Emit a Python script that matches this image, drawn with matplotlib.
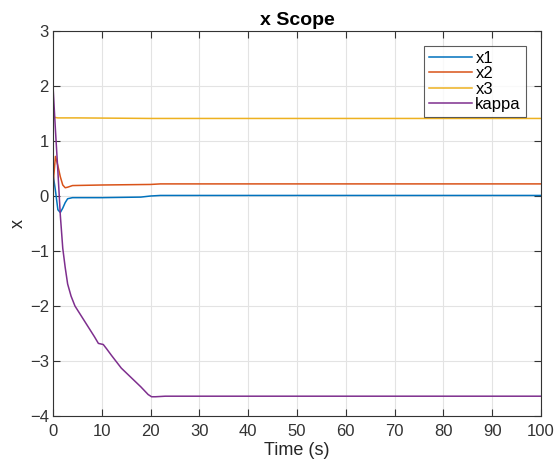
import matplotlib
matplotlib.use("Agg")
import matplotlib.pyplot as plt

plt.rcParams['font.family'] = ['Liberation Sans', 'DejaVu Sans']

# Data (time in s)
t_x1 = [0, 0.5, 1.0, 1.5, 2.0, 2.5, 3.0, 4.0, 10, 18, 20, 22, 40, 60, 80, 100]
x1 = [0.4, 0.1, -0.25, -0.30, -0.22, -0.12, -0.05, -0.03, -0.03, -0.02, 0.0, 0.01, 0.01, 0.01, 0.01, 0.01]

t_x2 = [0, 0.1, 0.5, 1.0, 1.5, 2.0, 2.5, 3.0, 4.0, 10, 20, 22, 50, 100]
x2 = [-0.3, 0.3, 0.72, 0.55, 0.35, 0.2, 0.15, 0.16, 0.19, 0.2, 0.21, 0.22, 0.22, 0.22]

t_x3 = [0, 0.3, 1.0, 5, 20, 50, 100]
x3 = [1.45, 1.43, 1.42, 1.42, 1.41, 1.41, 1.41]

t_kappa = [0, 0.5, 1.0, 1.5, 2.0, 2.5, 3.0, 3.7, 4.5, 5.5, 6.5, 7.5, 8.5, 9.3, 10.3,
           11, 12, 14, 16, 18, 19.5, 20.2, 21, 23, 50, 100]
kappa = [2.0, 1.2, 0.45, -0.35, -0.95, -1.3, -1.6, -1.82, -2.0, -2.14, -2.28, -2.42, -2.56,
         -2.68, -2.70, -2.78, -2.9, -3.13, -3.3, -3.47, -3.61, -3.65, -3.65, -3.64, -3.64, -3.64]

labels = ['x1', 'x2', 'x3', 'kappa']
colors = ['#0072BD', '#D95319', '#EDB120', '#7E2F8E']

xticks = list(range(0, 101, 10))
yticks = list(range(-4, 4))

W, H = 557, 466
fig = plt.figure(figsize=(W/100, H/100), dpi=100)
ax = fig.add_axes([53/W, 1-416/H, (541-53)/W, (416-31)/H])

for tt, yy, lab, c in zip([t_x1, t_x2, t_x3, t_kappa], [x1, x2, x3, kappa], labels, colors):
    ax.plot(tt, yy, color=c, lw=1.1, label=lab)

ax.set_xlim(0, 100)
ax.set_ylim(-4, 3)
ax.set_xticks(xticks)
ax.set_yticks(yticks)
ax.grid(True, color='#e3e3e3', lw=0.8)
ax.set_axisbelow(True)
ax.tick_params(direction='in', top=True, right=True, length=5, width=0.8,
               labelsize=12, colors='#333333')
ax.tick_params(axis='x', pad=6)
ax.tick_params(axis='y', pad=3)
for s in ax.spines.values():
    s.set_color('#333333')
    s.set_linewidth(0.8)

ax.set_title('x Scope', fontsize=14, fontweight='bold', pad=4)
ax.set_xlabel('Time (s)', fontsize=13, labelpad=2, color='#262626')
ax.set_ylabel('x', fontsize=13, labelpad=2, color='#262626')

leg = ax.legend(loc='upper right', bbox_to_anchor=(526/W, 1-46/H), bbox_transform=fig.transFigure,
                fontsize=12, frameon=True, fancybox=False, edgecolor='#333333',
                handlelength=2.6, handletextpad=0.2, borderpad=0.3, labelspacing=0.02,
                borderaxespad=0.0)
leg.get_frame().set_linewidth(0.8)

fig.savefig('out.png', dpi=100)
